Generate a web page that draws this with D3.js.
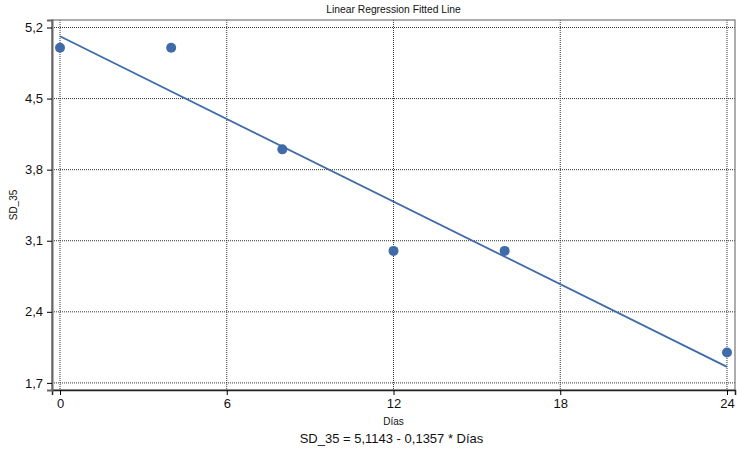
<!DOCTYPE html>
<html>
<head>
<meta charset="utf-8">
<script src="https://cdn.jsdelivr.net/npm/d3@7"></script>
<style>
  body { margin: 0; background: #fff; }
  text { font-family: "Liberation Sans", Arial, sans-serif; }
</style>
</head>
<body>
<svg id="chart" width="737" height="452"></svg>
<script>
// observed values
const dias = [0, 4, 8, 12, 16, 24];
const sd35 = [5, 5, 4, 3, 3, 2];
const xTicks = [0, 6, 12, 18, 24];
const yTicks = [1.7, 2.4, 3.1, 3.8, 4.5, 5.2];
const intercept = 5.1143;
const slope = -0.1357;

const svg = d3.select('#chart');
const plotL = 52, plotR = 735, plotT = 20, plotB = 390;

const x = d3.scaleLinear().domain([-0.288, 24.288]).range([plotL, plotR]);
const y = d3.scaleLinear().domain([1.63, 5.274]).range([plotB, plotT]);

const comma = d => d3.format('.1f')(d).replace('.', ',');

// grid
svg.append('g').selectAll('line').data(xTicks).enter().append('line')
    .attr('x1', d => x(d)).attr('x2', d => x(d))
    .attr('y1', plotT).attr('y2', plotB)
    .attr('stroke', '#333').attr('stroke-dasharray', '1,1');

svg.append('g').selectAll('line').data(yTicks).enter().append('line')
    .attr('x1', plotL).attr('x2', plotR)
    .attr('y1', d => y(d)).attr('y2', d => y(d))
    .attr('stroke', '#333').attr('stroke-dasharray', '1,1');

// frame
svg.append('rect')
    .attr('x', plotL).attr('y', plotT)
    .attr('width', plotR - plotL).attr('height', plotB - plotT)
    .attr('fill', 'none').attr('stroke', '#777').attr('stroke-width', 1.2);

// axes
let xAxis = svg.append('g')
    .attr('transform', `translate(0,${plotB})`)
    .call(d3.axisBottom(x).tickValues(xTicks).tickSize(5).tickPadding(4));
xAxis.select('.domain').attr('stroke', '#222').attr('stroke-width', 1.5);
xAxis.selectAll('text').attr('font-size', 13).attr('fill', '#111');

let yAxis = svg.append('g')
    .attr('transform', `translate(${plotL},0)`)
    .call(d3.axisLeft(y).tickValues(yTicks).tickFormat(comma).tickSize(5).tickPadding(4));
yAxis.select('.domain').attr('stroke', '#666').attr('stroke-width', 2);
yAxis.selectAll('text').attr('font-size', 13).attr('fill', '#111');

// fitted line
svg.append('line')
    .attr('x1', x(0)).attr('y1', y(intercept))
    .attr('x2', x(24)).attr('y2', y(intercept + slope * 24))
    .attr('stroke', '#3f6ca8').attr('stroke-width', 1.8);

// points
svg.append('g').selectAll('circle').data(dias).enter().append('circle')
    .attr('cx', d => x(d))
    .attr('cy', (d, i) => y(sd35[i]))
    .attr('r', 5)
    .attr('fill', '#3f6ca8');

// labels
svg.append('text').attr('x', (plotL + plotR) / 2).attr('y', 13)
    .attr('text-anchor', 'middle').attr('font-size', 10.3).attr('fill', '#111')
    .text('Linear Regression Fitted Line');

svg.append('text').attr('x', (plotL + plotR) / 2).attr('y', 425)
    .attr('text-anchor', 'middle').attr('font-size', 10).attr('fill', '#111')
    .text('Días');

svg.append('text')
    .attr('transform', `translate(17,${(plotT + plotB) / 2}) rotate(-90)`)
    .attr('text-anchor', 'middle').attr('font-size', 10).attr('fill', '#111')
    .text('SD_35');

svg.append('text').attr('x', (plotL + plotR) / 2 - 2).attr('y', 443)
    .attr('text-anchor', 'middle').attr('font-size', 13).attr('fill', '#111')
    .text('SD_35 = 5,1143 - 0,1357 * Días');
</script>
</body>
</html>
